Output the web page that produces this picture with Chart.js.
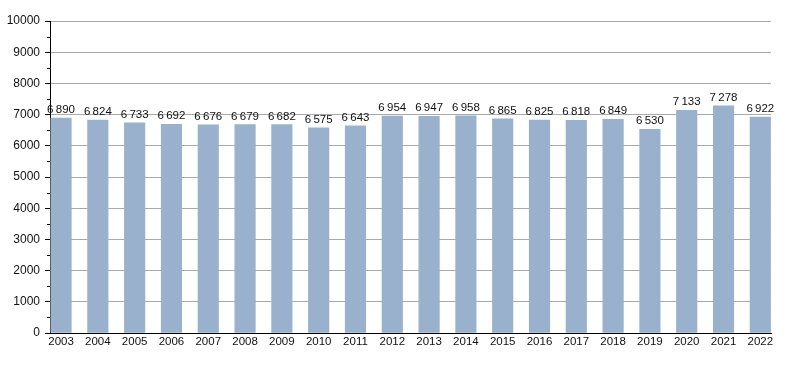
<!DOCTYPE html>
<html>
<head>
<meta charset="utf-8">
<script src="https://cdn.jsdelivr.net/npm/chart.js@4/dist/chart.umd.min.js"></script>
<style>
  html, body { margin: 0; padding: 0; background: #fff; }
  #wrap { width: 800px; height: 373px; }
</style>
</head>
<body>
<div id="wrap"><canvas id="myChart" width="800" height="373"></canvas></div>
<script>
const years = ['2003', '2004', '2005', '2006', '2007', '2008', '2009', '2010', '2011', '2012',
               '2013', '2014', '2015', '2016', '2017', '2018', '2019', '2020', '2021', '2022'];
const population = [6890, 6824, 6733, 6692, 6676, 6679, 6682, 6575, 6643, 6954,
                    6947, 6958, 6865, 6825, 6818, 6849, 6530, 7133, 7278, 6922];
const yMax = 10000;

const fontFamily = '"Liberation Sans", Arial, sans-serif';

const formatNumber = (n) => {
    const s = String(n);
    return s.length > 3 ? s.slice(0, -3) + '\u202f' + s.slice(-3) : s;
};

// values above each bar + small minor ticks on the y axis
const barLabels = {
    id: 'barLabels',
    afterDatasetsDraw(chart) {
        const ctx = chart.ctx;
        const meta = chart.getDatasetMeta(0);
        ctx.save();
        ctx.font = '11.5px ' + fontFamily;
        ctx.fillStyle = '#111';
        ctx.textAlign = 'center';
        ctx.textBaseline = 'alphabetic';
        meta.data.forEach((bar, i) => {
            ctx.fillText(formatNumber(population[i]), bar.x, bar.y - 5);
        });
        const y = chart.scales.y;
        ctx.strokeStyle = '#000';
        ctx.lineWidth = 1;
        for (let v = 500; v < yMax; v += 1000) {
            const py = Math.round(y.getPixelForValue(v)) + 0.5;
            ctx.beginPath();
            ctx.moveTo(y.right - 3, py);
            ctx.lineTo(y.right, py);
            ctx.stroke();
        }
        ctx.restore();
    }
};

const ctx = document.getElementById('myChart');

const myChart = new Chart(ctx, {
    type: 'bar',
    data: {
        datasets: [{
            data: population.map((v, i) => ({ x: i, y: v })),
            backgroundColor: '#99b1cd',
            borderWidth: 0,
            barThickness: 20.5
        }]
    },
    options: {
        responsive: false,
        animation: false,
        layout: {
            padding: { left: 0, right: 29, top: 21, bottom: 0 }
        },
        plugins: {
            legend: { display: false },
            tooltip: { enabled: false }
        },
        scales: {
            x: {
                type: 'linear',
                offset: false,
                min: -0.3,
                max: 19.29,
                afterBuildTicks: (scale) => {
                    scale.ticks = years.map((_, i) => ({ value: i }));
                },
                afterFit: (scale) => { scale.height = 40; },
                grid: { display: false, drawTicks: false },
                border: { display: true, color: '#000', width: 1 },
                ticks: {
                    autoSkip: false,
                    maxRotation: 0,
                    padding: 2,
                    color: '#111',
                    font: { family: fontFamily, size: 11.5 },
                    callback: (value) => years[value]
                }
            },
            y: {
                min: 0,
                max: yMax,
                afterFit: (scale) => { scale.width = 50; },
                grid: {
                    color: (c) => (c.tick && c.tick.value % 1000 === 0) ? '#a9a9a9' : '#e4e4e4',
                    tickColor: (c) => (c.tick && c.tick.value % 1000 === 0) ? '#000' : 'rgba(0,0,0,0)',
                    tickLength: 5
                },
                border: { display: true, color: '#000', width: 1 },
                ticks: {
                    stepSize: 500,
                    padding: 5,
                    color: '#111',
                    font: { family: fontFamily, size: 12 },
                    callback: (value) => value % 1000 === 0 ? String(value) : ''
                }
            }
        }
    },
    plugins: [barLabels]
});
</script>
</body>
</html>
